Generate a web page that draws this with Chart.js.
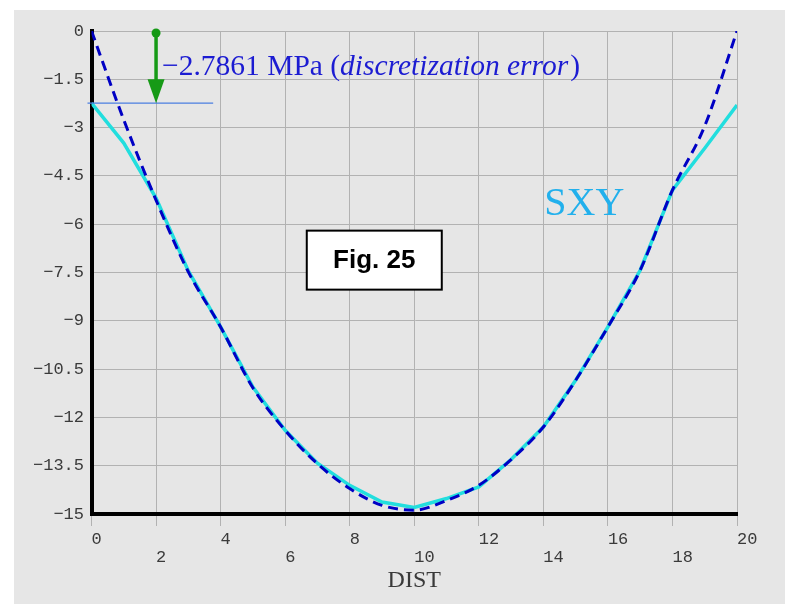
<!DOCTYPE html>
<html>
<head>
<meta charset="utf-8">
<script src="https://cdn.jsdelivr.net/npm/chart.js@4.4.1/dist/chart.umd.min.js"></script>
<style>
  html, body { margin: 0; padding: 0; background: #fff; }
  #wrap { width: 791px; height: 606px; }
</style>
</head>
<body>
<div id="wrap"><canvas id="myChart" width="791" height="606"></canvas></div>
<script>
// distance along the path
const dist = [0, 1, 2, 3, 4, 5, 6, 7, 8, 9, 10, 11, 12, 13, 14, 15, 16, 17, 18, 19, 20]
// FE result (cyan)
const sxy = [-2.24, -3.48, -5.19, -7.45, -9.19, -11.06, -12.4, -13.42, -14.11, -14.63, -14.8,
             -14.52, -14.16, -13.31, -12.3, -10.85, -9.19, -7.43, -4.94, -3.64, -2.3]
// reference curve (dashed)
const exact = [0, -2.76, -5.25, -7.48, -9.19, -11.08, -12.4, -13.44, -14.21, -14.73, -14.88,
               -14.58, -14.11, -13.31, -12.3, -10.85, -9.19, -7.43, -4.94, -2.95, 0]
const yTicks = [0, -1.5, -3, -4.5, -6, -7.5, -9, -10.5, -12, -13.5, -15]
const xTicks = [0, 2, 4, 6, 8, 10, 12, 14, 16, 18, 20]

const errorLabel = "\u22122.7861 MPa ("
const errorLabelItalic = "discretization error"
const arrowAt = 2
const errorLineEnd = 3.77
const fieldName = "SXY"
const figLabel = "Fig. 25"

const minus = v => v === 0 ? "0" : "\u2212" + (Math.round(Math.abs(v) * 10) / 10)

const panel = {
    id: "panel",
    beforeDraw(chart) {
        const ctx = chart.ctx
        ctx.save()
        ctx.fillStyle = "#ffffff"
        ctx.fillRect(0, 0, chart.width, chart.height)
        ctx.fillStyle = "#e6e6e6"
        ctx.fillRect(14, 10, 771, 594)
        ctx.restore()
    }
}

const notes = {
    id: "notes",
    afterDraw(chart) {
        const ctx = chart.ctx
        const xs = chart.scales.x, ys = chart.scales.y
        const ax = xs.getPixelForValue(arrowAt)
        const top = ys.getPixelForValue(0)
        const lvl = ys.getPixelForValue(sxy[0])
        ctx.save()

        // error level line
        ctx.strokeStyle = "#4a7ee0"
        ctx.lineWidth = 1.2
        ctx.beginPath()
        ctx.moveTo(xs.getPixelForValue(0) - 4, lvl)
        ctx.lineTo(xs.getPixelForValue(errorLineEnd), lvl)
        ctx.stroke()

        // green arrow
        ctx.fillStyle = "#169a16"
        ctx.strokeStyle = "#169a16"
        ctx.beginPath()
        ctx.arc(ax, top + 2, 4.5, 0, Math.PI * 2)
        ctx.fill()
        ctx.lineWidth = 3.5
        ctx.beginPath()
        ctx.moveTo(ax, top + 2)
        ctx.lineTo(ax, lvl - 22)
        ctx.stroke()
        ctx.beginPath()
        ctx.moveTo(ax - 8.5, lvl - 24)
        ctx.lineTo(ax + 8.5, lvl - 24)
        ctx.lineTo(ax, lvl)
        ctx.closePath()
        ctx.fill()

        // error text
        ctx.fillStyle = "#1c1cd2"
        ctx.textBaseline = "alphabetic"
        let tx = ax + 6
        const ty = top + 44
        ctx.font = '29.5px "Liberation Serif"'
        ctx.fillText(errorLabel, tx, ty)
        tx += ctx.measureText(errorLabel).width
        ctx.font = 'italic 29.5px "Liberation Serif"'
        ctx.fillText(errorLabelItalic, tx, ty)
        tx += ctx.measureText(errorLabelItalic).width + 2
        ctx.font = '29.5px "Liberation Serif"'
        ctx.fillText(")", tx, ty)

        // field name
        ctx.fillStyle = "#22b0ec"
        ctx.font = '40px "Liberation Serif"'
        ctx.fillText(fieldName, xs.getPixelForValue(14) + 1, ys.getPixelForValue(-5.72))

        // figure box
        const bx = xs.getPixelForValue(6.67), by = ys.getPixelForValue(-6.2)
        const bw = 135, bh = 59
        ctx.fillStyle = "#ffffff"
        ctx.fillRect(bx, by, bw, bh)
        ctx.strokeStyle = "#000"
        ctx.lineWidth = 2
        ctx.strokeRect(bx, by, bw, bh)
        ctx.fillStyle = "#000"
        ctx.font = 'bold 26px "Liberation Sans"'
        ctx.textAlign = "center"
        ctx.textBaseline = "middle"
        ctx.fillText(figLabel, bx + bw / 2, by + bh / 2 + 1)

        ctx.restore()
    }
}

function createChart() {
    const chartEl = document.getElementById("myChart")

    const chart = new Chart(chartEl, {
        type: "line",
        data: {
            datasets: [
                {
                    label: "exact",
                    data: dist.map((d, i) => ({ x: d, y: exact[i] })),
                    borderColor: "#0000c4",
                    borderWidth: 3,
                    borderDash: [10, 6],
                    pointRadius: 0,
                    cubicInterpolationMode: "monotone",
                    fill: false,
                    order: 0,
                },
                {
                    label: "SXY",
                    data: dist.map((d, i) => ({ x: d, y: sxy[i] })),
                    borderColor: "#22dede",
                    borderWidth: 3.5,
                    pointRadius: 0,
                    tension: 0,
                    fill: false,
                    order: 1,
                },
            ]
        },
        options: {
            responsive: false,
            animation: false,
            layout: { padding: { top: 31, left: 14, right: 54, bottom: 0 } },
            scales: {
                x: {
                    type: "linear",
                    min: 0,
                    max: 20,
                    afterBuildTicks(scale) { scale.ticks = xTicks.map(v => ({ value: v })) },
                    afterFit(scale) { scale.height = 92 },
                    grid: { color: "#b2b2b2", lineWidth: 1, tickLength: 12 },
                    border: { display: true, color: "#000", width: 4 },
                    ticks: {
                        align: "start",
                        padding: 4,
                        color: "#3a3a3a",
                        font: { family: "Liberation Mono", size: 17, lineHeight: 1.08 },
                        callback(val, index) {
                            return index % 2 === 0 ? String(val) : ["", String(val)]
                        }
                    },
                    title: {
                        display: true,
                        text: "DIST",
                        color: "#3a3a3a",
                        font: { family: "Liberation Serif", size: 24, lineHeight: 1.2 },
                        padding: { top: 0, bottom: 11 }
                    }
                },
                y: {
                    min: -15,
                    max: 0,
                    afterBuildTicks(scale) { scale.ticks = yTicks.map(v => ({ value: v })) },
                    afterFit(scale) { scale.width = 77.5 },
                    grid: { color: "#b2b2b2", lineWidth: 1, drawTicks: false },
                    border: { display: true, color: "#000", width: 4 },
                    ticks: {
                        padding: 7.5,
                        color: "#3a3a3a",
                        font: { family: "Liberation Mono", size: 17 },
                        callback: v => minus(v)
                    }
                }
            },
            plugins: {
                legend: { display: false },
                tooltip: { enabled: false }
            }
        },
        plugins: [panel, notes]
    })
}

createChart()
</script>
</body>
</html>
